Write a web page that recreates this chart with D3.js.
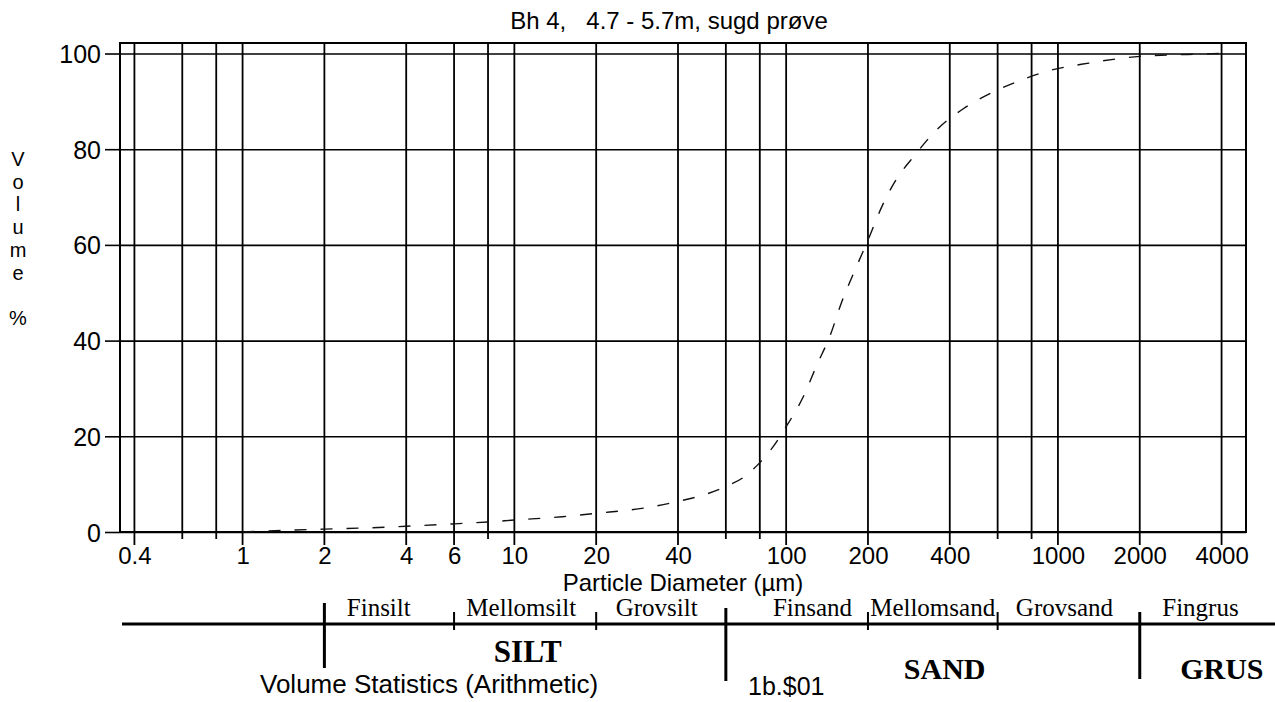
<!DOCTYPE html>
<html>
<head>
<meta charset="utf-8">
<script src="https://cdn.jsdelivr.net/npm/d3@7"></script>
<style>
  html, body { margin: 0; padding: 0; background: #fff; }
  svg { display: block; }
  .sans { font-family: "Liberation Sans", Arial, sans-serif; fill: #000; }
  .serif { font-family: "Liberation Serif", "Times New Roman", serif; fill: #000; }
</style>
</head>
<body>
<svg id="chart" width="1275" height="702"></svg>
<script>
// Cumulative grain-size distribution (volume %), laser diffraction
const diameters = [1, 1.2, 1.5, 2, 3, 4, 6, 8, 10, 15, 20, 30, 40, 50, 60, 70, 80, 90,
                   100, 115, 130, 145, 160, 180, 200, 225, 250, 300, 350, 450, 570, 700,
                   900, 1300, 2000, 3000, 4000];
const volumePct = [0, 0.2, 0.4, 0.6, 0.9, 1.2, 1.7, 2.1, 2.5, 3.2, 3.9, 5.0, 6.4, 7.8, 9.5,
                   11.5, 14.5, 18, 22, 28, 35, 41, 48, 55, 61, 68, 73, 79, 83.5, 88.5, 91.8,
                   94, 96.2, 98, 99.4, 99.8, 100];

// Axis ticks
const xLabelTicks = [0.4, 1, 2, 4, 6, 10, 20, 40, 100, 200, 400, 1000, 2000, 4000];
const xGridLines = [0.4, 0.6, 0.8, 1, 2, 4, 6, 8, 10, 20, 40, 60, 80, 100, 200, 400, 600, 800, 1000, 2000, 4000];
const yTicks = [0, 20, 40, 60, 80, 100];

// Soil classification band (grain size classes, µm)
const subClasses = ["Finsilt", "Mellomsilt", "Grovsilt", "Finsand", "Mellomsand", "Grovsand", "Fingrus"];
const subClassLabelAt = [3.17, 10.6, 33.4, 125, 346, 1057, 3345];
const minorBounds = [6, 20, 200, 600];
const majorBounds = [2, 60, 2000];
const mainClasses = ["SILT", "SAND", "GRUS"];
const mainClassLabelAt = [11.2, 383, 4010];

const titleText = "Bh 4,   4.7 - 5.7m, sugd prøve";
const yAxisLetters = ["V", "o", "l", "u", "m", "e", "", "%"];

const svg = d3.select("#chart");

const plot = { left: 120, right: 1246, top: 43, bottom: 532 };

const x = d3.scaleLog().domain([0.354, 4920]).range([plot.left, plot.right]);
const y = d3.scaleLinear().domain([0, 100]).range([532, 53.5]);

// Title
svg.append("text").attr("class", "sans")
  .attr("x", 669).attr("y", 29)
  .attr("text-anchor", "middle")
  .style("font-size", "24px")
  .style("white-space", "pre")
  .attr("xml:space", "preserve")
  .text(titleText);

// Horizontal grid lines with left tick marks
const yAxis = d3.axisLeft(y).tickValues(yTicks).tickSize(15).tickPadding(4);
const gy = svg.append("g").attr("transform", `translate(${plot.left},0)`).call(yAxis);
gy.select(".domain").remove();
gy.selectAll(".tick line").attr("stroke", "#000").attr("stroke-width", 1.6);
gy.selectAll(".tick text").attr("class", "sans").style("font-size", "25px")
  .attr("font-family", null).attr("dy", "0.36em");
gy.selectAll(".tick").append("line")
  .attr("x1", 0).attr("x2", plot.right - plot.left)
  .attr("stroke", "#000").attr("stroke-width", 1.6);

// Vertical grid lines, extending slightly below the axis
const gGrid = svg.append("g");
gGrid.selectAll("line").data(xGridLines).join("line")
  .attr("x1", d => x(d)).attr("x2", d => x(d))
  .attr("y1", plot.top)
  .attr("y2", d => xLabelTicks.includes(d) ? plot.bottom + 13 : plot.bottom + 7)
  .attr("stroke", "#000").attr("stroke-width", 1.8);

// X tick labels
const xAxis = d3.axisBottom(x).tickValues(xLabelTicks).tickSize(0).tickPadding(10)
  .tickFormat(d => String(d));
const gx = svg.append("g").attr("transform", `translate(0,${plot.bottom})`).call(xAxis);
gx.select(".domain").remove();
gx.selectAll(".tick text").attr("class", "sans").style("font-size", "24px")
  .attr("font-family", null).attr("y", 32).attr("dy", 0);

// Plot frame
svg.append("rect")
  .attr("x", plot.left).attr("y", plot.top)
  .attr("width", plot.right - plot.left).attr("height", plot.bottom - plot.top)
  .attr("fill", "none").attr("stroke", "#000").attr("stroke-width", 2);

// Cumulative curve (dashed)
const line = d3.line()
  .x((d, i) => x(diameters[i]))
  .y(d => y(d))
  .curve(d3.curveMonotoneX);
svg.append("path")
  .attr("d", line(volumePct))
  .attr("fill", "none").attr("stroke", "#111").attr("stroke-width", 1.4)
  .attr("stroke-dasharray", "12,14");

// Y axis title, stacked letters
svg.append("g").selectAll("text").data(yAxisLetters).join("text")
  .attr("class", "sans")
  .attr("x", 18).attr("y", (d, i) => 166 + i * 22.7)
  .attr("text-anchor", "middle")
  .style("font-size", "20px")
  .text(d => d);

// X axis title
svg.append("text").attr("class", "sans")
  .attr("x", 683).attr("y", 591)
  .attr("text-anchor", "middle")
  .style("font-size", "24px")
  .text("Particle Diameter (µm)");

// Classification band
const band = svg.append("g");
band.append("line")
  .attr("x1", 122).attr("x2", 1275).attr("y1", 624).attr("y2", 624)
  .attr("stroke", "#000").attr("stroke-width", 3);
band.selectAll(".minor").data(minorBounds).join("line").attr("class", "minor")
  .attr("x1", d => x(d)).attr("x2", d => x(d))
  .attr("y1", 612).attr("y2", 630)
  .attr("stroke", "#000").attr("stroke-width", 2);
const majorSpan = [[603, 668], [608, 681], [612, 679]];
band.selectAll(".major").data(majorBounds).join("line").attr("class", "major")
  .attr("x1", d => x(d)).attr("x2", d => x(d))
  .attr("y1", (d, i) => majorSpan[i][0]).attr("y2", (d, i) => majorSpan[i][1])
  .attr("stroke", "#000").attr("stroke-width", 3);
band.selectAll(".sub").data(subClasses).join("text").attr("class", "serif")
  .attr("x", (d, i) => x(subClassLabelAt[i]))
  .attr("y", 616)
  .attr("text-anchor", "middle")
  .style("font-size", "25px")
  .text(d => d);
band.selectAll(".main").data(mainClasses).join("text").attr("class", "serif")
  .attr("x", (d, i) => x(mainClassLabelAt[i]))
  .attr("y", (d, i) => i === 0 ? 662 : 679)
  .attr("text-anchor", "middle")
  .style("font-size", (d, i) => i === 0 ? "31px" : "30px")
  .style("font-weight", "bold")
  .text(d => d);

// Footer
svg.append("text").attr("class", "sans")
  .attr("x", 260).attr("y", 693)
  .style("font-size", "26px")
  .text("Volume Statistics (Arithmetic)");
svg.append("text").attr("class", "sans")
  .attr("x", 748).attr("y", 695)
  .style("font-size", "25px")
  .text("1b.$01");
</script>
</body>
</html>
